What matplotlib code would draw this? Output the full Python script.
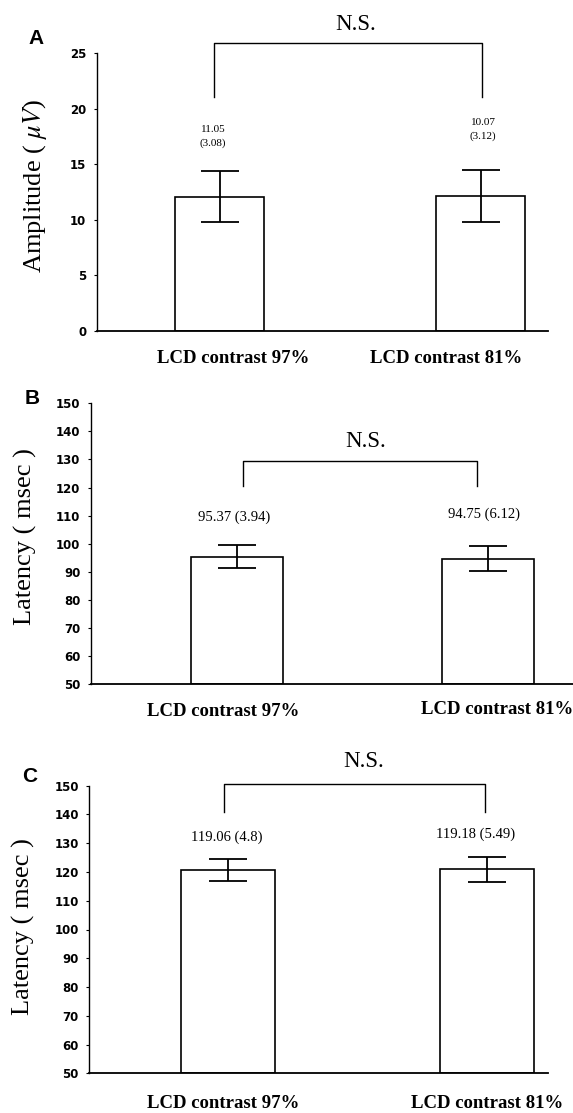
import matplotlib
matplotlib.use("Agg")
import matplotlib.pyplot as plt

W, H, DPI = 573, 1113, 100

# ---------------- data ----------------
categories = ["LCD contrast 97%", "LCD contrast 81%"]

amp_means = [12.1, 12.15]
amp_errs = [2.3, 2.3]
amp_labels = ["11.05\n(3.08)", "10.07\n(3.12)"]

latB_means = [95.4, 94.6]
latB_errs = [4.15, 4.45]
latB_labels = ["95.37 (3.94)", "94.75 (6.12)"]

latC_means = [120.7, 121.0]
latC_errs = [3.95, 4.35]
latC_labels = ["119.06 (4.8)", "119.18 (5.49)"]

ylabels = ["Amplitude ( $\\mathit{\\mu V}$)", "Latency ( msec )", "Latency ( msec )"]
letters = ["A", "B", "C"]

# ---------------- layout (pixels) ----------------
panels = [
    dict(means=amp_means, errs=amp_errs, notes=amp_labels, ylim=(0, 25), yticks=range(0, 26, 5),
         left=96.7, right=548, top=53.3, bottom=331, centres=(219.5, 480.5), barw=89,
         bracket=dict(x=(214.3, 482.3), top=43.3, bot=97.3),
         ns=(356, 25), note_pos=[(213, 136.5), (483, 129.5)], note_size=8, note_ls=1.6,
         xlab=[(233, 358), (446, 358)], ylab=(35, 186), letter=(36, 38)),
    dict(means=latB_means, errs=latB_errs, notes=latB_labels, ylim=(50, 150), yticks=range(50, 151, 10),
         left=90.7, right=573, top=403.3, bottom=684.3, centres=(236.8, 487.7), barw=91.7,
         bracket=dict(x=(242.7, 477), top=460.7, bot=486),
         ns=(366, 441.7), note_pos=[(234, 517.7), (484, 514)], note_size=10.5, note_ls=1.2,
         xlab=[(223, 711), (497, 710)], ylab=(25, 537), letter=(32, 399)),
    dict(means=latC_means, errs=latC_errs, notes=latC_labels, ylim=(50, 150), yticks=range(50, 151, 10),
         left=89.3, right=548, top=785.7, bottom=1073.3, centres=(228, 487), barw=93.5,
         bracket=dict(x=(224, 484.7), top=783.5, bot=812),
         ns=(364, 761.7), note_pos=[(227, 837.7), (475.5, 834.3)], note_size=10.5, note_ls=1.2,
         xlab=[(223, 1103), (487, 1103)], ylab=(23, 927), letter=(30, 777)),
]

plt.rcParams["mathtext.fontset"] = "stix"
SERIF = "Liberation Serif"

fig = plt.figure(figsize=(W / DPI, H / DPI), dpi=DPI)
fig.patch.set_facecolor("white")


def fx(px):
    return px / W


def fy(py):
    return 1 - py / H


for i, p in enumerate(panels):
    ax = fig.add_axes([fx(p["left"]), fy(p["bottom"]), fx(p["right"] - p["left"]),
                       (p["bottom"] - p["top"]) / H])
    c1, c2 = p["centres"]
    unit = c2 - c1
    ax.set_xlim((p["left"] - c1) / unit, (p["right"] - c1) / unit)
    ax.set_ylim(*p["ylim"])
    x = list(range(len(categories)))
    ax.bar(x, [m - p["ylim"][0] for m in p["means"]], bottom=p["ylim"][0],
           width=p["barw"] / unit, color="white", edgecolor="black", linewidth=1.2, zorder=2)
    ax.errorbar(x, p["means"], yerr=p["errs"], fmt="none", ecolor="black",
                elinewidth=1.3, capsize=13.5, capthick=1.3, zorder=3)

    for s in ["top", "right"]:
        ax.spines[s].set_visible(False)
    ax.spines["left"].set_linewidth(1.0)
    ax.spines["bottom"].set_linewidth(1.3)
    ax.set_xticks([])
    ax.set_yticks(list(p["yticks"]))
    ax.tick_params(axis="y", direction="out", length=2.5, width=0.8, pad=5)
    for lab in ax.get_yticklabels():
        lab.set_fontfamily("DejaVu Sans")
        lab.set_fontweight("bold")
        lab.set_fontsize(8.5)

    # bracket (pixel -> data)
    inv = ax.transData.inverted()
    b = p["bracket"]
    (bx1, by_top) = inv.transform((b["x"][0], H - b["top"]))
    (bx2, by_bot) = inv.transform((b["x"][1], H - b["bot"]))
    ax.plot([bx1, bx1, bx2, bx2], [by_bot, by_top, by_top, by_bot], color="black",
            linewidth=1.0, clip_on=False, zorder=3)

    fig.text(fx(p["ns"][0]), fy(p["ns"][1]), "N.S.", family=SERIF, fontsize=16.5,
             ha="center", va="center")
    for (nx, ny), note in zip(p["note_pos"], p["notes"]):
        fig.text(fx(nx), fy(ny), note, family=SERIF, fontsize=p["note_size"],
                 ha="center", va="center", linespacing=p["note_ls"])
    for (lx, ly), cat in zip(p["xlab"], categories):
        fig.text(fx(lx), fy(ly), cat, family=SERIF, fontweight="bold", fontsize=13.5,
                 ha="center", va="center")
    fig.text(fx(p["ylab"][0]), fy(p["ylab"][1]), ylabels[i], family=SERIF, fontsize=19,
             rotation=90, ha="center", va="center")
    fig.text(fx(p["letter"][0]), fy(p["letter"][1]), letters[i], family="Liberation Sans",
             fontweight="bold", fontsize=15, ha="center", va="center")

fig.savefig("out.png", dpi=DPI, facecolor="white")
